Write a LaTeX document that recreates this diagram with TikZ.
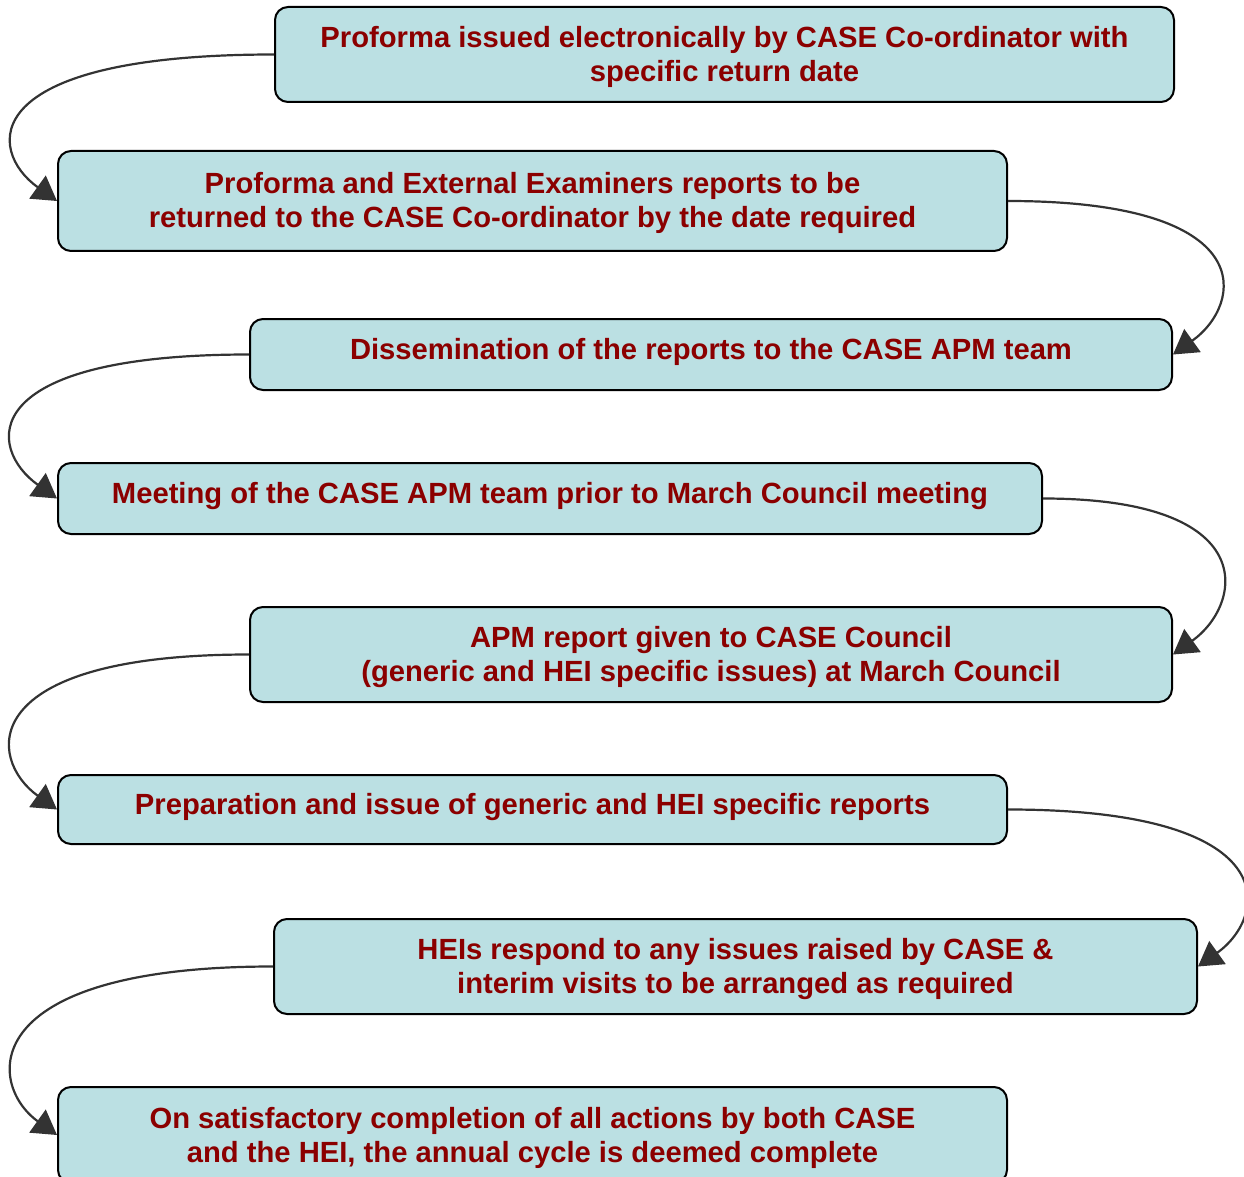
\documentclass[tikz,border=0pt]{standalone}
\usepackage{fontspec}
\setmainfont{Liberation Sans}
\usetikzlibrary{arrows.meta,calc}
\definecolor{boxfill}{RGB}{187,224,227}
\definecolor{txtred}{RGB}{139,0,0}
\definecolor{conncol}{RGB}{51,51,51}
\newcommand\btext[2]{\raisebox{0pt}[\dimexpr\height+#1\relax][\depth]{\begin{tabular}{@{}c@{}}#2\end{tabular}}}
\begin{document}
\begin{tikzpicture}[x=0.5pt,y=-0.5pt,
  stepbox/.style={draw=black,line width=1pt,fill=boxfill,rounded corners=6.5pt,
    inner sep=0pt,align=center,text=txtred,
    font=\fontsize{14.6}{17}\selectfont\bfseries},
  conn/.style={draw=conncol,line width=1.1pt,
    -{Triangle[length=12pt,width=14pt,fill=conncol]}}]
\useasboundingbox (0,0) rectangle (1244,1177);
\node[stepbox,minimum width=449.5pt,minimum height=47.5pt] (b1) at (724.5,54.5)
  {\btext{3.6pt}{Proforma issued electronically by CASE Co-ordinator with\\specific return date}};
\node[stepbox,minimum width=474.5pt,minimum height=50pt] (b2) at (532.5,201)
  {\btext{3.0pt}{Proforma and External Examiners reports to be\\returned to the CASE Co-ordinator by the date required}};
\node[stepbox,minimum width=461pt,minimum height=35.5pt] (b3) at (711,354.5)
  {\btext{-2.1pt}{Dissemination of the reports to the CASE APM team}};
\node[stepbox,minimum width=492pt,minimum height=35.5pt] (b4) at (550,498.5)
  {\btext{-2.1pt}{Meeting of the CASE APM team prior to March Council meeting}};
\node[stepbox,minimum width=461pt,minimum height=47.5pt] (b5) at (711,654.5)
  {\btext{3.4pt}{APM report given to CASE Council\\(generic and HEI specific issues) at March Council}};
\node[stepbox,minimum width=474.5pt,minimum height=34.5pt] (b6) at (532.5,809.5)
  {\btext{-1.6pt}{Preparation and issue of generic and HEI specific reports}};
\node[stepbox,minimum width=461.5pt,minimum height=47.5pt] (b7) at (735.5,966.5)
  {\btext{3.4pt}{HEIs respond to any issues raised by CASE \&\\interim visits to be arranged as required}};
\node[stepbox,minimum width=474.5pt,minimum height=48pt] (b8) at (532.5,1135)
  {\btext{3.4pt}{On satisfactory completion of all actions by both CASE\\and the HEI, the annual cycle is deemed complete}};
% left connectors
\draw[conn] (b1.west) .. controls +(-300,0) and +(-70,-50) .. (b2.west);
\draw[conn] (b3.west) .. controls +(-275,0) and +(-70,-50) .. (b4.west);
\draw[conn] (b5.west) .. controls +(-275,0) and +(-70,-50) .. (b6.west);
\draw[conn] (b7.west) .. controls +(-299,0) and +(-70,-50) .. (b8.west);
% right connectors
\draw[conn] (b2.east) .. controls +(255,0) and +(70,-50) .. (b3.east);
\draw[conn] (b4.east) .. controls +(220,0) and +(70,-50) .. (b5.east);
\draw[conn] (b6.east) .. controls +(280,0) and +(70,-50) .. (b7.east);
\end{tikzpicture}
\end{document}
